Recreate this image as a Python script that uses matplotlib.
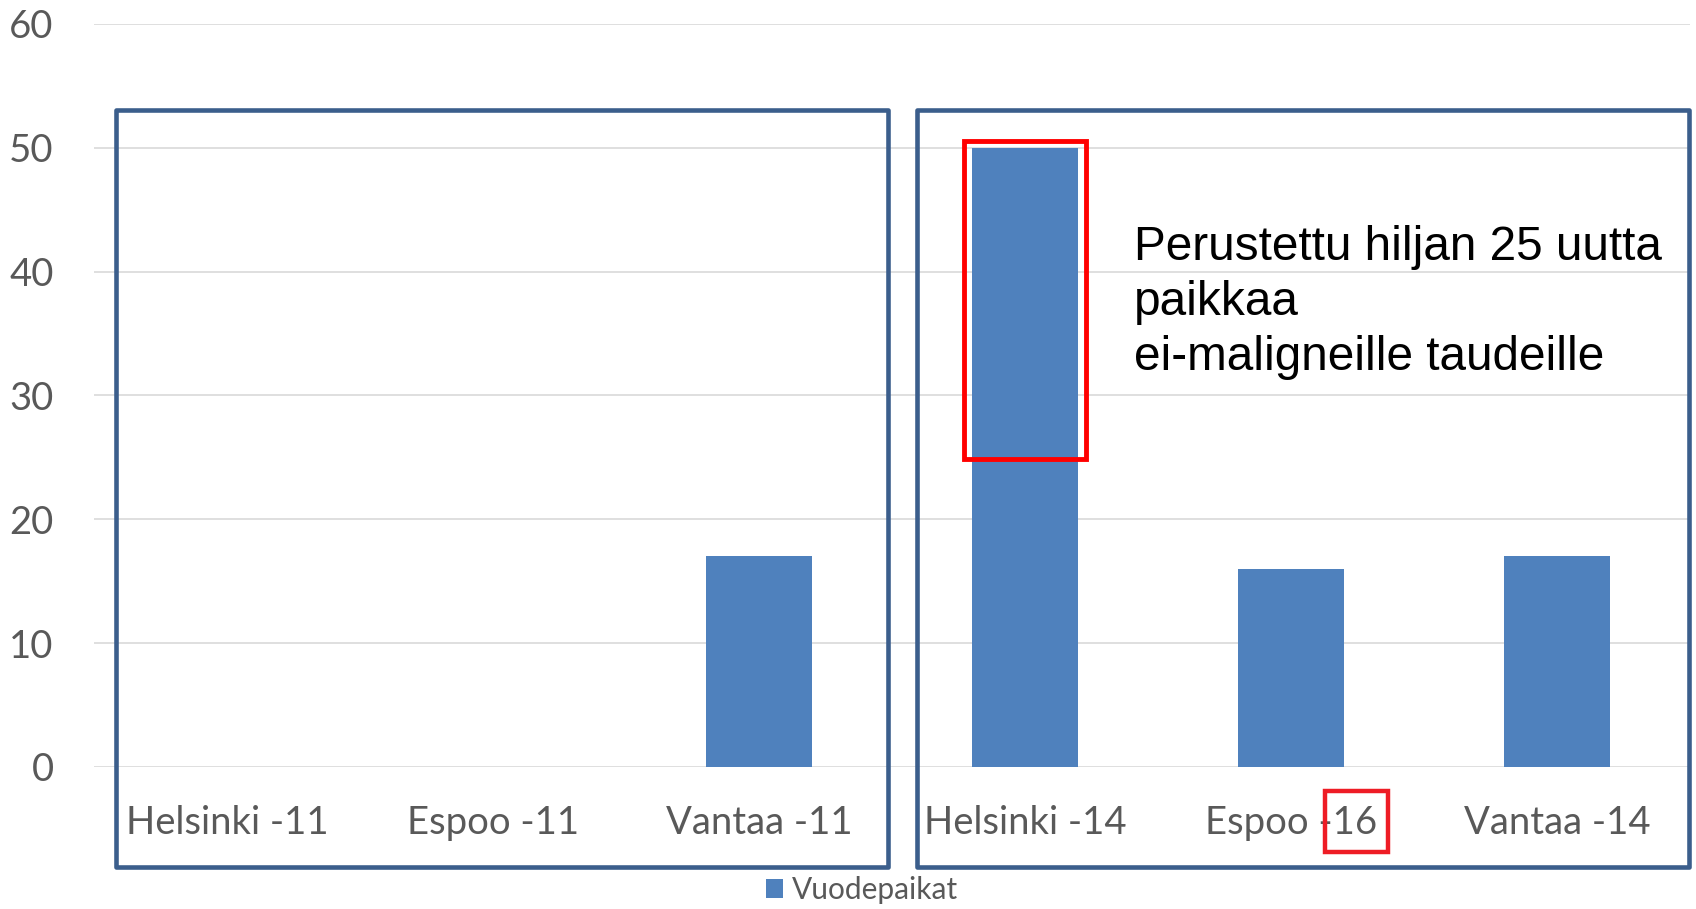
import matplotlib
matplotlib.use("Agg")
import matplotlib.pyplot as plt
from matplotlib.patches import Rectangle, Patch

categories = ["Helsinki -11", "Espoo -11", "Vantaa -11", "Helsinki -14", "Espoo -16", "Vantaa -14"]
values = [0, 0, 17, 50, 16, 17]
series_name = "Vuodepaikat"
yticks = [0, 10, 20, 30, 40, 50, 60]
note = "Perustettu hiljan 25 uutta\npaikkaa\nei-maligneille taudeille"

W, H = 1696, 909
fig = plt.figure(figsize=(W / 100, H / 100), dpi=100)
left, right = 94 / W, 1690 / W
bottom, top = 1 - 766.9 / H, 1 - 23.8 / H
ax = fig.add_axes([left, bottom, right - left, top - bottom])

bar_color = "#4F81BD"
x = list(range(len(categories)))
ax.bar(x, values, width=0.4, color=bar_color, zorder=2)

ax.set_xlim(-0.5, len(categories) - 0.5)
ax.set_ylim(0, 60)
ax.set_yticks(yticks)
ax.set_xticks(x)
ax.set_xticklabels(categories)
ax.grid(axis="y", color="#D9D9D9", linewidth=1.2, zorder=0)
for s in ax.spines.values():
    s.set_visible(False)
ax.tick_params(axis="both", length=0, labelsize=27.5, labelcolor="#595959")
ax.tick_params(axis="y", pad=29)
ax.tick_params(axis="x", pad=27.5)
for lbl in ax.get_xticklabels() + ax.get_yticklabels():
    lbl.set_family(["Lato", "DejaVu Sans"])

# blue group frames
frame_color = "#3B5E8C"
for x0, x1 in [(-0.417, 2.485), (2.594, 5.496)]:
    ax.add_patch(Rectangle((x0, -8.08), x1 - x0, 53.04 + 8.08, fill=False,
                           edgecolor=frame_color, linewidth=3.3, clip_on=False,
                           zorder=3, joinstyle="round"))

# red highlight boxes
red = "#FF0000"
ax.add_patch(Rectangle((3 - 0.228, 24.9), 0.456, 50.5 - 24.9, fill=False,
                       edgecolor=red, linewidth=3.5, clip_on=False, zorder=4))
ax.add_patch(Rectangle((4.128, -6.88), 4.365 - 4.128, 6.88 - 1.95, fill=False,
                       edgecolor="#EE1C25", linewidth=3.2, clip_on=False, zorder=4))

fig.text(1134 / W, 1 - 225 / H, note, fontsize=34.4, family=["Liberation Sans", "DejaVu Sans"],
         color="black", ha="left", va="top", linespacing=1.29)

handle = Patch(facecolor=bar_color, edgecolor="none")
leg = fig.legend([handle], [series_name], loc="center", bbox_to_anchor=(862 / W, 1 - 890 / H),
                 frameon=False, handlelength=0.6, handleheight=0.6, handletextpad=0.3,
                 prop={"family": ["Lato", "DejaVu Sans"], "size": 21.5})
for t in leg.get_texts():
    t.set_color("#595959")

fig.savefig("out.png", dpi=100)
